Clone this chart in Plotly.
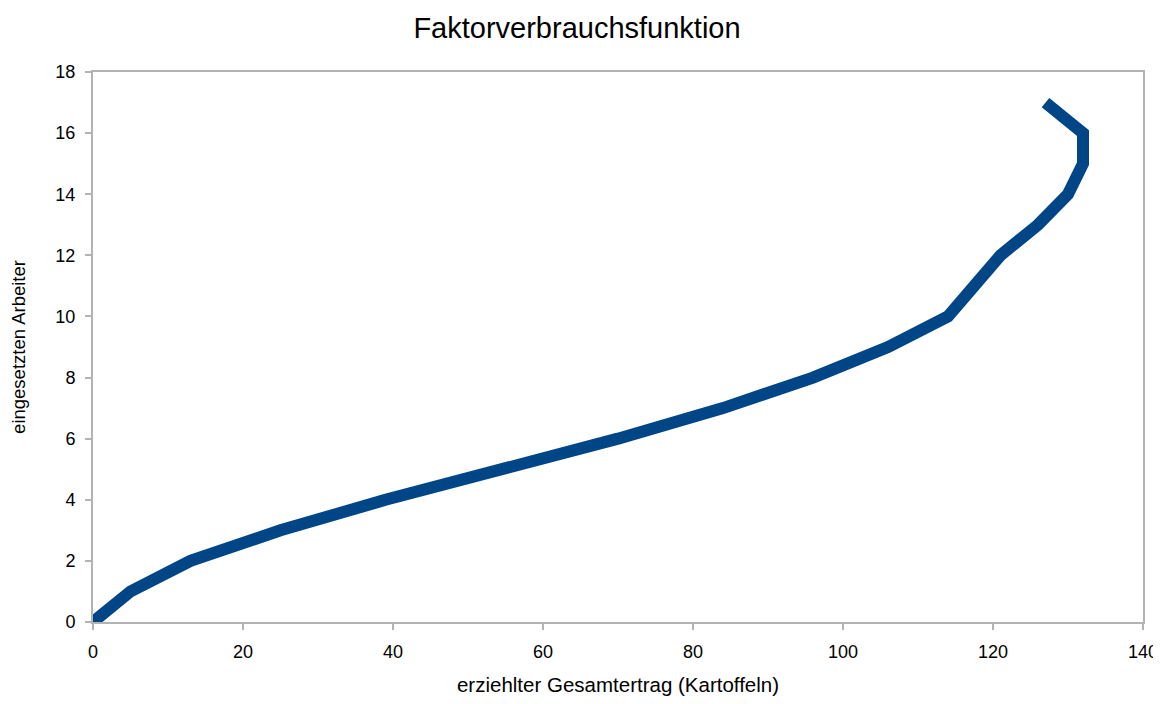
import plotly.graph_objects as go

ertrag = [0, 5, 13, 25, 39, 55, 70, 84, 96, 106, 114, 121, 126, 130, 132, 132, 127]
arbeiter = [0, 1, 2, 3, 4, 5, 6, 7, 8, 9, 10, 12, 13, 14, 15, 16, 17]

title_text = "Faktorverbrauchsfunktion"
x_title = "erziehlter Gesamtertrag (Kartoffeln)"
y_title = "eingesetzten Arbeiter"

FONT = "Liberation Sans"

fig = go.Figure(go.Scatter(
    x=ertrag, y=arbeiter, mode="lines",
    line=dict(color="#004586", width=12),
    showlegend=False, hoverinfo="x+y",
))

axis_common = dict(
    showgrid=False, zeroline=False, showline=True, linecolor="#b3b3b3",
    linewidth=2, mirror=True, ticks="outside", tickcolor="#b3b3b3",
    ticklen=6, tickwidth=2, tickfont=dict(family=FONT, size=18, color="#000000"),
    ticklabelstandoff=6,
)

fig.update_layout(
    width=1153, height=688,
    paper_bgcolor="white", plot_bgcolor="white",
    margin=dict(l=85, r=18, t=64, b=74, autoexpand=False),
    title=dict(text=title_text, x=569 / 1153, xanchor="center", y=1 - 20 / 688, yanchor="middle",
               font=dict(family=FONT, size=29, color="#000000")),
    xaxis=dict(range=[0, 140], dtick=20, tick0=0,
               title=dict(text=x_title, font=dict(family=FONT, size=20.5, color="#000000"), standoff=18),
               **axis_common),
    yaxis=dict(range=[0, 18], dtick=2, tick0=0,
               title=dict(text=y_title, font=dict(family=FONT, size=18.5, color="#000000"), standoff=28),
               **axis_common),
)

fig.write_html("out.html")
